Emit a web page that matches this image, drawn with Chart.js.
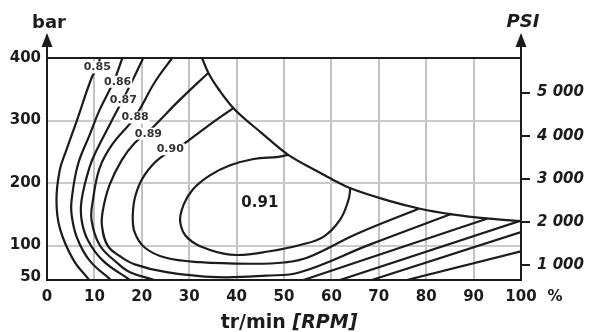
<!DOCTYPE html>
<html>
<head>
<meta charset="utf-8">
<script src="https://cdn.jsdelivr.net/npm/chart.js@4/dist/chart.umd.min.js"></script>
<style>
  html, body { margin: 0; padding: 0; background: #fff; }
  #wrap { width: 590px; height: 332px; }
</style>
</head>
<body>
<div id="wrap"><canvas id="c" width="590" height="332"></canvas></div>
<script>
// Efficiency map of a hydraulic motor: speed (% of max) vs pressure (bar / PSI)

const FONT = '"DejaVu Sans", "Liberation Sans", sans-serif';
const INK = '#1c1c1c';

// axis ticks
const speedTicks = [0, 10, 20, 30, 40, 50, 60, 70, 80, 90, 100];
const barTicks = [50, 100, 200, 300, 400];
const psiTicks = [1000, 2000, 3000, 4000, 5000];
const BAR_TO_PSI = 14.5038;
const barMin = 45, barMax = 400;

// maximum pressure limit curve [speed %, bar]
const limitCurve = [[32.7,400],[34.0,377],[36.5,347],[39.3,320],[45.3,280],[50.9,245],[56.5,221],
  [60.4,205],[63.9,192],[72,172],[78.7,159],[85.4,150],[93.2,143],[100,139]];

// iso-efficiency curves [speed %, bar]; "b" arrays are the high-speed branches
const eta085 = [[11.2,400],[10.6,385],[9.4,368],[6.3,300],[4.1,253],[2.7,221],[2.0,173],[2.7,128],[5.5,78],[8.9,45]];
const eta085b = [[75.9,45],[100,90.7]];
const eta086 = [[15.9,400],[14.1,363],[11.1,317],[9.0,277],[6.5,229],[5.2,173],[5.2,149],[6.3,113],[9.0,76],[13.5,45]];
const eta086b = [[68.5,45],[100,121.7]];
const eta087 = [[20.3,400],[18.1,365],[15.9,332],[13.2,293],[10.7,256],[9.0,226],[7.3,173],[7.3,141],[8.6,109],[11.8,76],[17.5,45]];
const eta087b = [[61.8,45],[100,140]];
const eta088 = [[26.4,400],[22.8,362],[18.5,305],[13.7,261],[11.1,224],[9.7,173],[9.4,141],[11.1,101],[14.7,73],[17.5,57.5],[22.7,45]];
const eta088b = [[54.1,45],[92.8,143]];
const eta089 = [[34.0,376],[28.0,333],[21.5,283],[18.5,264],[15.8,237],[13.2,197],[11.8,157],[11.6,131],[12.8,100],
  [15.4,83],[18.5,70],[25.2,57.5],[35.8,49.5],[46.3,52],[53.4,57.5],[68.2,102],[85.4,151]];
const eta090 = [[39.3,320],[33.7,290],[28.0,258],[23.8,240],[20.6,213],[18.7,181],[18.1,149],[18.5,121],[20.6,97],
  [24.9,81],[32.3,73.5],[42.8,71],[50,73],[55,81],[65.4,119],[78.4,159]];
const eta091 = [[50.9,245],[48.8,242],[43.6,238.5],[38.5,228],[34.2,211.5],[30.8,190],[28.8,165],[28.1,138],[29.7,112],
  [34.4,93],[40,85],[47,91],[53.4,101],[58.3,114],[61.8,141],[63.6,173],[64,192]];

// curve labels
const curveLabels = ['0.85', '0.86', '0.87', '0.88', '0.89', '0.90'];
const curveLabelSpeed = [10.6, 14.9, 16.1, 18.6, 21.4, 26.0];
const curveLabelBar = [385, 362, 332, 305, 279, 254];
const peakLabel = '0.91';
const peakLabelSpeed = 44.9;
const peakLabelBar = 168;

const lineStyle = { showLine: true, borderColor: INK, borderWidth: 2.2, pointRadius: 0, fill: false };
const smoothCurves = [eta085, eta086, eta087, eta088, eta089, eta090, eta091];
const straightCurves = [eta085b, eta086b, eta087b, eta088b];

const toXY = c => c.map(p => ({ x: p[0], y: p[1] }));
const datasets = [
  Object.assign({ data: toXY(limitCurve), cubicInterpolationMode: 'monotone' }, lineStyle),
  ...smoothCurves.map(c => Object.assign({ data: toXY(c), tension: 0.4 }, lineStyle)),
  ...straightCurves.map(c => Object.assign({ data: toXY(c), tension: 0 }, lineStyle))
];

const fmtPsi = v => String(v).replace(/\B(?=(\d{3})+(?!\d))/g, ' ');

const decorations = {
  id: 'decorations',
  afterDatasetsDraw(chart) {
    const { ctx, scales } = chart;
    const xs = scales.x, ys = scales.y;
    ctx.save();
    ctx.textAlign = 'center';
    ctx.textBaseline = 'middle';
    ctx.font = 'bold 11px ' + FONT;
    curveLabels.forEach((t, i) => {
      const px = xs.getPixelForValue(curveLabelSpeed[i]);
      const py = ys.getPixelForValue(curveLabelBar[i]);
      const w = ctx.measureText(t).width;
      ctx.fillStyle = '#fff';
      ctx.fillRect(px - w / 2 - 1, py - 6, w + 2, 12);
      ctx.fillStyle = '#333';
      ctx.fillText(t, px, py);
    });
    ctx.font = 'bold 15px ' + FONT;
    ctx.fillStyle = INK;
    ctx.fillText(peakLabel, xs.getPixelForValue(peakLabelSpeed), ys.getPixelForValue(peakLabelBar));
    ctx.restore();
  },
  afterDraw(chart) {
    const { ctx, chartArea, scales } = chart;
    const L = chartArea.left, R = chartArea.right, T = chartArea.top;
    ctx.save();
    ctx.strokeStyle = INK;
    ctx.fillStyle = INK;
    ctx.lineWidth = 2;
    [L, R].forEach(x => {
      ctx.beginPath();
      ctx.moveTo(x, T);
      ctx.lineTo(x, T - 13);
      ctx.stroke();
      ctx.beginPath();
      ctx.moveTo(x, T - 25);
      ctx.lineTo(x - 5.5, T - 11);
      ctx.lineTo(x + 5.5, T - 11);
      ctx.closePath();
      ctx.fill();
    });
    ctx.textBaseline = 'middle';
    ctx.textAlign = 'center';
    ctx.font = 'bold 18px ' + FONT;
    ctx.fillText('bar', L + 2, 23);
    ctx.font = 'italic bold 18px ' + FONT;
    ctx.fillText('PSI', R + 2, 22);

    // x axis title
    const y = 323;
    ctx.font = 'bold 19px ' + FONT;
    const a = 'tr/min ';
    const wa = ctx.measureText(a).width;
    ctx.font = 'italic bold 19px ' + FONT;
    const b = '[RPM]';
    const wb = ctx.measureText(b).width;
    const x0 = (L + R) / 2 + 5 - (wa + wb) / 2;
    ctx.textAlign = 'left';
    ctx.font = 'bold 19px ' + FONT;
    ctx.fillText(a, x0, y);
    ctx.font = 'italic bold 19px ' + FONT;
    ctx.fillText(b, x0 + wa, y);

    // unit after the last speed tick
    ctx.textAlign = 'center';
    ctx.font = 'bold 15px ' + FONT;
    ctx.fillText('%', scales.x.getPixelForValue(100) + 34, 297);
    ctx.restore();
  }
};

new Chart(document.getElementById('c'), {
  type: 'scatter',
  data: { datasets },
  plugins: [decorations],
  options: {
    responsive: false,
    animation: false,
    devicePixelRatio: 1,
    layout: { padding: { top: 58, left: 0, right: 0, bottom: 0 } },
    plugins: { legend: { display: false }, tooltip: { enabled: false } },
    scales: {
      x: {
        type: 'linear', position: 'bottom', min: 0, max: 100,
        afterBuildTicks: s => { s.ticks = speedTicks.map(v => ({ value: v })); },
        afterFit: s => { s.height = 52; },
        ticks: { color: INK, font: { family: FONT, size: 15, weight: 'bold' }, padding: 8, maxRotation: 0, autoSkip: false },
        grid: {
          color: c => (c.tick && (c.tick.value === 0 || c.tick.value === 100)) ? 'rgba(0,0,0,0)' : '#c2c2c2',
          lineWidth: 2, drawTicks: false
        },
        border: { display: true, color: INK, width: 2 }
      },
      y: {
        type: 'linear', position: 'left', min: barMin, max: barMax,
        afterBuildTicks: s => { s.ticks = barTicks.map(v => ({ value: v })); },
        afterFit: s => { s.width = 47; },
        ticks: { color: INK, font: { family: FONT, size: 15, weight: 'bold' }, padding: 6 },
        grid: {
          color: c => {
            const v = c.tick ? c.tick.value : null;
            if (v === barMax) return INK;
            if (v === 50) return 'rgba(0,0,0,0)';
            return '#cacaca';
          },
          lineWidth: 2, drawTicks: false
        },
        border: { display: true, color: INK, width: 2 }
      },
      psi: {
        type: 'linear', position: 'right', min: barMin * BAR_TO_PSI, max: barMax * BAR_TO_PSI,
        afterBuildTicks: s => { s.ticks = psiTicks.map(v => ({ value: v })); },
        afterFit: s => { s.width = 69; },
        ticks: { color: INK, font: { family: FONT, size: 15, weight: 'bold', style: 'italic' }, padding: 7, callback: v => fmtPsi(v) },
        grid: { drawOnChartArea: false, drawTicks: true, tickLength: 9, color: INK, lineWidth: 2 },
        border: { display: true, color: INK, width: 2 }
      }
    }
  }
});
</script>
</body>
</html>
